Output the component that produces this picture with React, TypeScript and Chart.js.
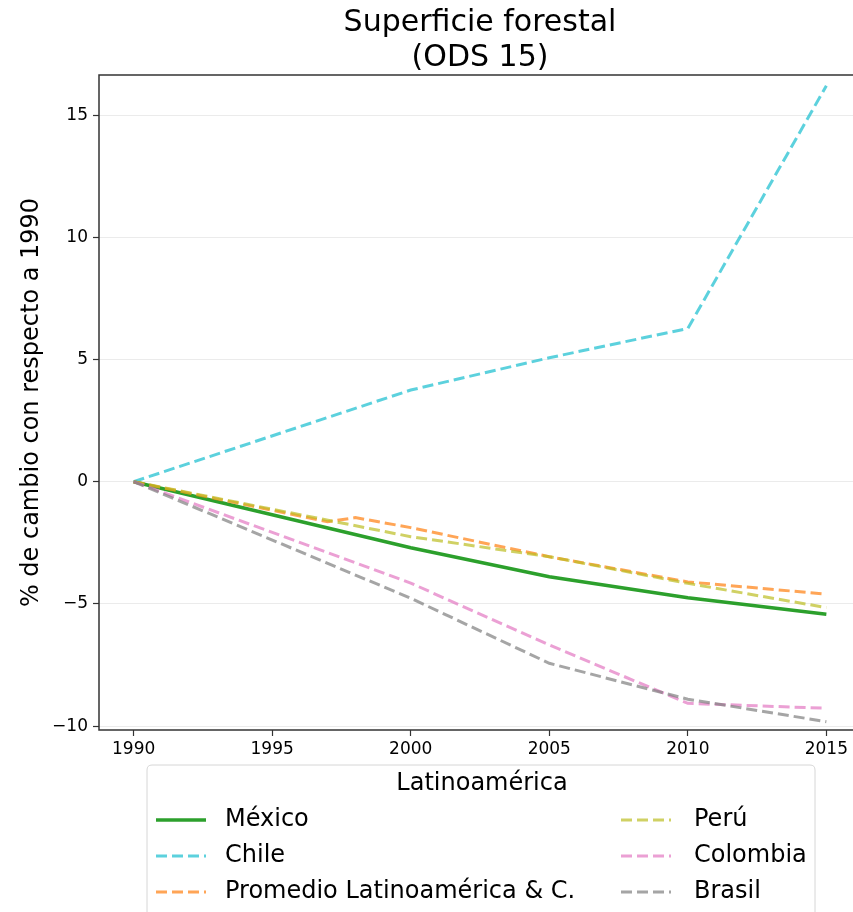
import React, { useEffect, useRef } from "react";
import { Chart, registerables } from "chart.js";

Chart.register(...registerables);

const FONT = "'DejaVu Sans', 'Noto Sans', sans-serif";

const titleLines = ["Superficie forestal", "(ODS 15)"];
const yAxisLabel = "% de cambio con respecto a 1990";
const legendTitle = "Latinoamérica";

const xTicks = [1990, 1995, 2000, 2005, 2010, 2015];
const yTicks = [-10, -5, 0, 5, 10, 15];

const years = [1990, 2000, 2005, 2010, 2015];
const promedioYears = [1990, 1997, 1998, 2000, 2005, 2010, 2015];

const mexico = [0, -2.7, -3.89, -4.75, -5.42];
const chile = [0, 3.75, 5.07, 6.27, 16.2];
const promedio = [0, -1.64, -1.47, -1.88, -3.07, -4.1, -4.6];
const peru = [0, -2.25, -3.07, -4.16, -5.15];
const colombia = [0, -4.15, -6.68, -9.07, -9.27];
const brasil = [0, -4.77, -7.43, -8.9, -9.82];

const seriesLabels = [
  "México",
  "Chile",
  "Promedio Latinoamérica & C.",
  "Perú",
  "Colombia",
  "Brasil",
];
const seriesColors = [
  "#2ca02c",
  "rgba(23,190,207,0.7)",
  "rgba(255,127,14,0.7)",
  "rgba(188,189,34,0.7)",
  "rgba(227,119,194,0.7)",
  "rgba(127,127,127,0.7)",
];

const toPoints = (xs: number[], ys: number[]) => xs.map((x, i) => ({ x, y: ys[i] }));

const seriesPoints = [
  toPoints(years, mexico),
  toPoints(years, chile),
  toPoints(promedioYears, promedio),
  toPoints(years, peru),
  toPoints(years, colombia),
  toPoints(years, brasil),
];

const fmtNum = (v: number) => (v < 0 ? "\u2212" + Math.abs(v) : String(v));

const titlePlugin = {
  id: "mplTitle",
  afterDraw(chart: any) {
    const { ctx, chartArea } = chart;
    const cx = (chartArea.left + chartArea.right) / 2;
    ctx.save();
    ctx.fillStyle = "#000";
    ctx.font = `30px ${FONT}`;
    ctx.textAlign = "center";
    ctx.textBaseline = "middle";
    ctx.fillText(titleLines[0], cx, 23);
    ctx.fillText(titleLines[1], cx, 58);
    ctx.restore();
  },
};

const framePlugin = {
  id: "mplFrame",
  afterDatasetsDraw(chart: any) {
    const { ctx, chartArea } = chart;
    ctx.save();
    ctx.strokeStyle = "#333";
    ctx.lineWidth = 1.5;
    ctx.strokeRect(
      chartArea.left,
      chartArea.top,
      chartArea.right - chartArea.left,
      chartArea.bottom - chartArea.top
    );
    ctx.restore();
  },
};

const legendPlugin = {
  id: "mplLegend",
  afterDraw(chart: any) {
    const { ctx } = chart;
    const boxL = 147, boxT = 765, boxR = 815, boxB = 960, r = 5;
    ctx.save();
    ctx.beginPath();
    ctx.moveTo(boxL + r, boxT);
    ctx.lineTo(boxR - r, boxT);
    ctx.quadraticCurveTo(boxR, boxT, boxR, boxT + r);
    ctx.lineTo(boxR, boxB);
    ctx.lineTo(boxL, boxB);
    ctx.lineTo(boxL, boxT + r);
    ctx.quadraticCurveTo(boxL, boxT, boxL + r, boxT);
    ctx.closePath();
    ctx.fillStyle = "rgba(255,255,255,0.8)";
    ctx.fill();
    ctx.strokeStyle = "#d6d6d6";
    ctx.lineWidth = 1;
    ctx.stroke();

    ctx.fillStyle = "#000";
    ctx.font = `24px ${FONT}`;
    ctx.textAlign = "center";
    ctx.textBaseline = "middle";
    ctx.fillText(legendTitle, 482, 784);

    const colHandle = [156, 621];
    const colText = [225, 694];
    const rowY = [820, 856, 892];
    const ds = chart.data.datasets;
    ds.forEach((d: any, i: number) => {
      const col = Math.floor(i / 3);
      const row = i % 3;
      const y = rowY[row];
      ctx.beginPath();
      ctx.setLineDash(d.borderDash || []);
      ctx.strokeStyle = d.borderColor;
      ctx.lineWidth = d.borderWidth;
      ctx.moveTo(colHandle[col], y);
      ctx.lineTo(colHandle[col] + 50, y);
      ctx.stroke();
      ctx.setLineDash([]);
      ctx.fillStyle = "#000";
      ctx.textAlign = "left";
      ctx.fillText(d.label, colText[col], y);
    });
    ctx.restore();
  },
};

export default function App() {
  const canvasRef = useRef<HTMLCanvasElement | null>(null);

  useEffect(() => {
    if (!canvasRef.current) return;
    const datasets = seriesLabels.map((label, i) => ({
      label,
      data: seriesPoints[i],
      borderColor: seriesColors[i],
      backgroundColor: seriesColors[i],
      borderWidth: i === 0 ? 3.5 : 3,
      borderDash: i === 0 ? [] : [11, 5],
      pointRadius: 0,
      tension: 0,
      fill: false,
      order: seriesLabels.length - i,
    }));

    const chart = new Chart(canvasRef.current, {
      type: "line",
      data: { datasets },
      options: {
        responsive: false,
        animation: false,
        devicePixelRatio: 1,
        layout: { padding: { top: 75, right: 99, bottom: 200, left: 0 } },
        plugins: {
          legend: { display: false },
          title: { display: false },
          tooltip: { enabled: false },
        },
        scales: {
          x: {
            type: "linear",
            min: 1988.75,
            max: 2016.25,
            afterBuildTicks: (scale: any) => {
              scale.ticks = xTicks.map((v) => ({ value: v }));
            },
            afterFit: (scale: any) => {
              scale.height = 30;
            },
            grid: {
              drawOnChartArea: false,
              drawTicks: true,
              tickLength: 6,
              tickColor: "#333",
              tickWidth: 1.2,
            },
            border: { display: false },
            ticks: {
              color: "#000",
              padding: 3,
              maxRotation: 0,
              autoSkip: false,
              font: { family: FONT, size: 17 },
              callback: (v: any) => String(v),
            },
          },
          y: {
            type: "linear",
            min: -10.16,
            max: 16.64,
            afterBuildTicks: (scale: any) => {
              scale.ticks = yTicks.map((v) => ({ value: v }));
            },
            afterFit: (scale: any) => {
              scale.width = 99;
            },
            grid: {
              color: "#ebebeb",
              lineWidth: 1,
              drawTicks: true,
              tickLength: 6,
              tickColor: "#333",
              tickWidth: 1.2,
            },
            border: { display: false },
            ticks: {
              color: "#000",
              padding: 5,
              autoSkip: false,
              font: { family: FONT, size: 17 },
              callback: (v: any) => fmtNum(Number(v)),
            },
            title: {
              display: true,
              text: yAxisLabel,
              color: "#000",
              font: { family: FONT, size: 24 },
              padding: { top: 17, bottom: 0 },
            },
          },
        },
      },
      plugins: [titlePlugin, framePlugin, legendPlugin],
    });
    return () => chart.destroy();
  }, []);

  return (
    <div
      style={{
        position: "fixed",
        left: 0,
        top: 0,
        width: 853,
        height: 912,
        overflow: "hidden",
        background: "#fff",
      }}
    >
      <canvas
        ref={canvasRef}
        width={960}
        height={960}
        style={{ display: "block", width: 960, height: 960 }}
      />
    </div>
  );
}
